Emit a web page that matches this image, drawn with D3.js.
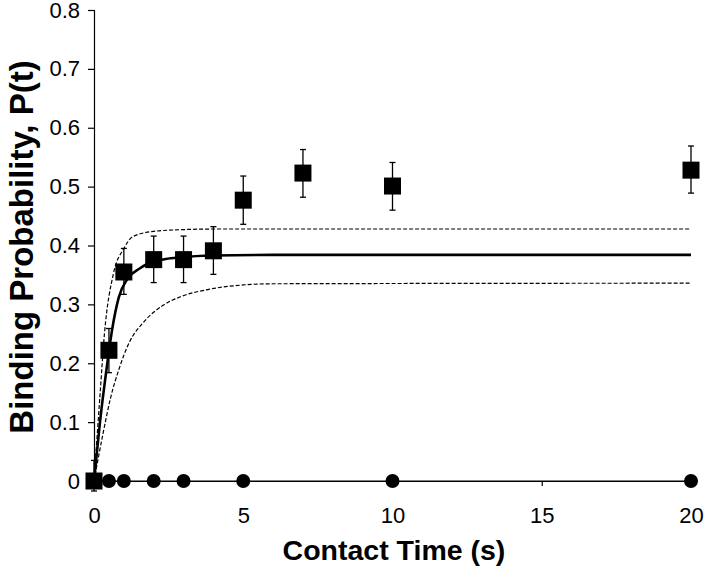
<!DOCTYPE html>
<html>
<head>
<meta charset="utf-8">
<script src="https://cdn.jsdelivr.net/npm/d3@7"></script>
<style>
  html, body { margin: 0; padding: 0; background: #fff; }
  svg { display: block; }
</style>
</head>
<body>
<svg id="chart" width="708" height="572"></svg>
<script>
// ---- data ----
const xTicks = [0, 5, 10, 15, 20];
const yTicks = [0, 0.1, 0.2, 0.3, 0.4, 0.5, 0.6, 0.7, 0.8];

// measured binding probability (squares) with error bars
const sqTime = [0, 0.5, 1, 2, 3, 4, 5, 7, 10, 20];
const sqP    = [0, 0.222, 0.355, 0.376, 0.376, 0.391, 0.477, 0.523, 0.501, 0.528];
const sqLow  = [-0.017, 0.184, 0.317, 0.337, 0.337, 0.351, 0.436, 0.482, 0.460, 0.489];
const sqHigh = [0.035, 0.259, 0.395, 0.416, 0.416, 0.432, 0.518, 0.563, 0.541, 0.569];

// control (circles)
const ciTime = [0, 0.5, 1, 2, 3, 5, 10, 20];
const ciP    = [0, 0, 0, 0, 0, 0, 0, 0];

// fitted curve (solid)
const fitTime = [0, 0.2, 0.42, 0.61, 0.83, 1.13, 1.53, 1.8, 2.4, 2.9, 4, 6, 20];
const fitP    = [0, 0.1, 0.19, 0.258, 0.312, 0.344, 0.361, 0.369, 0.377, 0.380, 0.383, 0.384, 0.384];

// upper confidence bound (dashed)
const upTime = [0, 0.2, 0.35, 0.65, 1.0, 1.3, 2.0, 3.0, 4.0, 20];
const upP    = [0, 0.145, 0.25, 0.352, 0.395, 0.415, 0.424, 0.427, 0.428, 0.428];

// lower confidence bound (dashed)
const loTime = [0, 0.3, 0.55, 0.85, 1.15, 1.7, 2.3, 2.9, 3.9, 5.0, 6.0, 20];
const loP    = [0, 0.08, 0.14, 0.192, 0.232, 0.272, 0.298, 0.313, 0.326, 0.333, 0.335, 0.336];

// ---- drawing ----
const svg = d3.select("#chart");
const x = d3.scaleLinear().domain([0, 20]).range([94, 691]);
const y = d3.scaleLinear().domain([0, 0.8]).range([481, 10]);
const font = "'Liberation Sans', Arial, sans-serif";

// axes
const yAxis = d3.axisLeft(y).tickValues(yTicks)
  .tickFormat(d => d === 0 ? "0" : d3.format(".1f")(d))
  .tickSizeOuter(0).tickSize(6).tickPadding(8);
const gy = svg.append("g").attr("transform", `translate(${x(0)},0)`).call(yAxis);
gy.selectAll("text").attr("font-family", font).attr("font-size", 22).attr("fill", "#000");
gy.selectAll("line,path").attr("stroke", "#000").attr("stroke-width", 1.2);

const xAxis = d3.axisBottom(x).tickValues(xTicks).tickFormat(d3.format("d"))
  .tickSizeOuter(0).tickSize(5).tickPadding(21);
const gx = svg.append("g").attr("transform", `translate(0,${y(0)})`).call(xAxis);
gx.selectAll("text").attr("font-family", font).attr("font-size", 22).attr("fill", "#000");
gx.selectAll("line,path").attr("stroke", "#000").attr("stroke-width", 1.2);

// titles
svg.append("text").attr("x", 394).attr("y", 560).attr("text-anchor", "middle")
  .attr("font-family", font).attr("font-weight", "bold").attr("font-size", 28.5)
  .text("Contact Time (s)");
svg.append("text").attr("transform", "translate(33,247) rotate(-90)").attr("text-anchor", "middle")
  .attr("font-family", font).attr("font-weight", "bold").attr("font-size", 33)
  .text("Binding Probability, P(t)");

const line = d3.line().x(d => x(d[0])).y(d => y(d[1])).curve(d3.curveMonotoneX);

// control line + circles
svg.append("path").datum(d3.zip(ciTime, ciP)).attr("d", d3.line().x(d => x(d[0])).y(d => y(d[1])))
  .attr("fill", "none").attr("stroke", "#000").attr("stroke-width", 1.2);

// dashed bounds
[[upTime, upP], [loTime, loP]].forEach(([t, p]) => {
  svg.append("path").datum(d3.zip(t, p)).attr("d", line)
    .attr("fill", "none").attr("stroke", "#000").attr("stroke-width", 1.2)
    .attr("stroke-dasharray", "4,2");
});

// fit
svg.append("path").datum(d3.zip(fitTime, fitP)).attr("d", line)
  .attr("fill", "none").attr("stroke", "#000").attr("stroke-width", 2.6);

// error bars
const eb = svg.append("g").attr("stroke", "#000").attr("stroke-width", 1.3);
sqTime.forEach((t, i) => {
  eb.append("line").attr("x1", x(t)).attr("x2", x(t)).attr("y1", y(sqLow[i])).attr("y2", y(sqHigh[i]));
  [sqLow[i], sqHigh[i]].forEach(v => {
    eb.append("line").attr("x1", x(t) - 3).attr("x2", x(t) + 3).attr("y1", y(v)).attr("y2", y(v));
  });
});

// circles
svg.append("g").selectAll("circle").data(d3.zip(ciTime, ciP)).join("circle")
  .attr("cx", d => x(d[0])).attr("cy", d => y(d[1])).attr("r", 7).attr("fill", "#000");

// squares
const s = 17;
svg.append("g").selectAll("rect").data(d3.zip(sqTime, sqP)).join("rect")
  .attr("x", d => x(d[0]) - s / 2).attr("y", d => y(d[1]) - s / 2)
  .attr("width", s).attr("height", s).attr("fill", "#000");
</script>
</body>
</html>
